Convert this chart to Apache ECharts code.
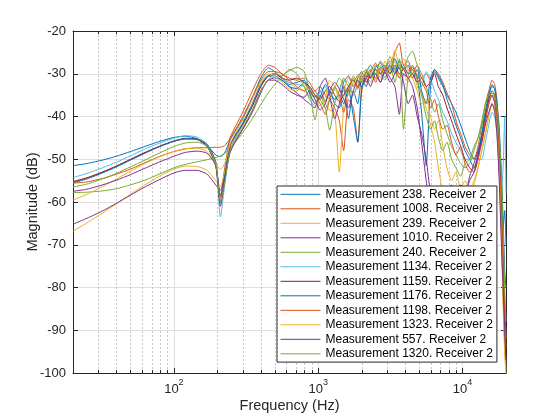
<!DOCTYPE html>
<html><head><meta charset="utf-8">
<script src="https://cdn.jsdelivr.net/npm/echarts@6/dist/echarts.min.js"></script>
<style>html,body{margin:0;padding:0;background:#fff}#c{width:560px;height:420px}</style>
</head><body><div id="c"></div>
<script>
const freqs = [20,25,32,40,50,63,80,100,120,145,170,195,210,225,245,270,300,350,400,450,
  500,560,630,710,800,870,950,1030,1120,1200,1300,1400,1500,1620,1750,1880,2000,2150,2300,2500,
  2700,2900,3150,3400,3650,3900,4200,4500,4850,5200,5600,6000,6400,6800,7300,7800,8400,9000,9700,10400,
  11200,12000,12800,13600,14400,15200,16000,16700,17300,17900,18500,19100,19600,20000];

const m238 = [-51.5,-51,-50.2,-49.3,-48.2,-47,-45.8,-44.9,-44.6,-45.2,-46.8,-49,-49.4,-48.5,-45.5,-43,-40.5,-35.5,-31,-28.6,
  -29.5,-31,-32.5,-32,-31.5,-33.5,-35.5,-34,-36.5,-34,-37,-38,-33,-40.5,-34,-37,-31,-33,-30,-31,
  -28.5,-30,-29,-26.5,-29,-28,-30,-28.5,-31,-39,-51.5,-33,-29.5,-31,-33,-35,-37,-39,-42,-45,
  -48,-50,-48,-44,-39,-35,-33,-33.5,-37,-42,-52,-64,-76,-80];
const m1008 = [-55.2,-54.3,-53,-51.6,-50.1,-48.5,-47,-45.8,-45.3,-45.4,-47,-51.5,-59,-52,-45,-42,-39,-34,-30,-28,
  -28.5,-30,-31,-31.5,-31,-32,-34,-33,-35,-36,-38,-41,-48,-36,-38,-46,-33,-31,-29,-32,
  -29,-28,-30,-25,-22.8,-28,-27,-30,-28,-31,-30,-31.5,-29,-30,-32,-34.5,-37,-41,-44,-47,
  -49,-50,-47,-42,-37,-34,-31.5,-32.5,-36,-45,-56,-72,-88,-94];
const m239 = [-66.8,-64.9,-62.6,-60.4,-58.2,-56,-53.9,-52.3,-51.6,-51.7,-52.6,-55,-56.3,-53,-47.5,-44.5,-42,-37.5,-33,-30.5,
  -30,-31,-32,-33.5,-34,-35,-36.5,-35,-37,-38.5,-39,-53,-38,-33,-35,-32,-34,-30,-32,-29,
  -31,-27,-29.5,-27,-31,-30,-32,-29,-33,-35,-38,-42,-46,-52,-58,-62,-56,-59,-62,-57,
  -59,-56,-52,-48,-44,-40,-37,-38,-43,-50,-60,-78,-92,-99];
const m1010 = [-65.2,-63.8,-62.1,-60.3,-58.4,-56.5,-54.7,-53.2,-52.6,-52.6,-53.5,-56,-57.2,-54,-48.5,-45.5,-43,-38.5,-34,-31.5,
  -31,-31.5,-33,-34.5,-36,-37,-38,-33,-31,-35,-40.5,-37,-32,-30.5,-33,-31,-29.5,-32,-30.5,-30,
  -32,-29,-31,-33,-39.5,-30,-31,-33,-38,-46,-55,-62,-57,-63,-58,-62,-57,-60,-56,-58,
  -54,-51,-48,-45,-41,-37,-35,-37,-42,-52,-64,-82,-93,-97];
const m240 = [-57.8,-57.7,-57.4,-56.9,-56,-54.9,-53.4,-52,-51.2,-50.6,-50.1,-49.6,-49.2,-48.6,-47.5,-45.8,-43.8,-40.5,-37.2,-34.5,
  -32.5,-30.5,-29.3,-28.5,-29.5,-34,-40.8,-35,-38,-43.2,-37,-34,-31,-33,-30.5,-32,-30,-29,-31,-28,
  -30,-31.5,-28,-32,-27,-29,-26,-24.7,-28,-30,-33,-36,-39,-37,-41,-44,-47,-49,-51,-52,
  -51,-48,-45,-42,-39,-36,-34.5,-35.5,-39,-46,-55,-68,-84,-92];
const m1134 = [-54.3,-53.3,-52,-50.7,-49.2,-47.6,-46.2,-45.1,-44.5,-44.8,-46.5,-51,-63.5,-56,-47,-44.5,-42,-37.5,-33,-30.5,
  -31,-31.5,-32,-32.5,-33,-36,-37.5,-34,-33,-35.5,-36,-34,-31.5,-32,-35,-33,-31,-30,-28,-30,
  -29,-31,-27.5,-29.5,-28,-30.5,-29,-31,-30,-33,-29.5,-31,-34,-36,-39,-41,-44,-46,-48,-50,
  -50,-49.5,-50,-50,-46,-42,-39,-40,-44,-52,-58,-52,-40,-58];
const m1159 = [-55.3,-54.4,-53,-51.6,-50,-48.4,-46.9,-45.7,-45.1,-45.3,-47,-51.5,-61,-55,-46.8,-44.2,-41.8,-37.5,-33,-30.5,
  -30,-31,-31.5,-31,-32,-33,-35,-36,-34,-33,-35,-36.5,-35,-33,-31.5,-33,-32,-30.5,-31,-29,
  -30,-28.5,-30,-28,-30,-29,-31,-30,-32,-31,-33,-32,-30,-33,-35,-38,-41,-44,-47,-50,
  -52,-53,-50,-45,-40,-36,-34,-35,-39,-47,-58,-74,-86,-90];
const m1176 = [-55.5,-54.6,-53.2,-51.8,-50.2,-48.6,-47,-45.8,-45.2,-45.3,-46.5,-50.5,-60,-54,-46.5,-44,-41.5,-37,-32.5,-30.5,
  -30.5,-31.5,-33,-33.5,-32,-34.5,-37,-35.5,-32.5,-34,-36,-35,-37,-33.5,-40,-46,-34,-29.5,-31,-28.5,
  -27.5,-29.5,-28,-30,-27,-29,-28,-31,-29,-34,-37,-31,-29,-30.5,-32.5,-36,-39,-42,-45,-48,
  -50,-52,-49,-44,-39,-35,-32.5,-33.5,-37,-44,-54,-66,-62,-70];
const m1198 = [-55.6,-55.3,-54.5,-53.5,-52.3,-50.8,-49.3,-48.2,-47.6,-47.3,-47.3,-47.2,-47.2,-46.8,-45.2,-42.8,-40,-35.5,-31.5,-29.5,
  -29.5,-30,-31.5,-33,-34,-33,-35,-37,-39.5,-36,-33,-35,-39,-34,-31,-33.5,-30.5,-32,-29.5,-27.5,
  -30,-29,-27,-29,-31,-28.5,-30,-28,-30.5,-32,-34,-38,-36,-40,-43,-42,-46,-49,-47,-51,
  -53,-52,-50,-46,-41,-37,-35,-36.5,-40,-48,-60,-76,-86,-92];
const m1323 = [-59.6,-58.2,-56.4,-54.6,-52.8,-51,-49.4,-48.2,-47.5,-47.4,-48.2,-51,-52.4,-51,-46.5,-43.5,-40.8,-36,-32,-30,
  -30.5,-32,-33.5,-34,-32.5,-34,-36,-37.5,-35.5,-31.5,-33,-36,-34,-31,-33,-30,-32,-29,-30,-31.5,
  -28,-30,-28.5,-24.5,-28,-26.5,-29,-31,-34,-37,-36,-40,-43,-41,-47,-52,-55,-53,-57,-55,
  -57,-55,-52,-48,-44,-40,-37,-38.5,-43,-52,-66,-84,-96,-100];
const m557 = [-57.5,-57,-56,-54.9,-53.6,-52.1,-50.6,-49.3,-48.4,-48.1,-48.6,-51.5,-58.5,-55,-48,-45.5,-43,-39,-34.5,-31.5,
  -31.5,-32.5,-34,-35,-35.5,-34,-36,-38.5,-37,-34,-32,-33.5,-36,-38,-34,-31.5,-33,-31,-33,-30,
  -32,-29.5,-32,-30,-28.5,-32,-37,-35,-40,-44,-50,-58,-62,-58,-63,-59,-56,-59,-56,-58,
  -55,-53,-49,-46,-42,-39,-37,-39,-44,-54,-68,-80,-90,-97];
const m1320 = [-56.5,-55.8,-54.6,-53.3,-51.8,-50.2,-48.5,-47,-46.2,-46,-47,-51,-60,-55.5,-48,-45,-42.5,-38.5,-34,-31.5,
  -30,-30.5,-29,-30,-33,-35.5,-34,-36,-38,-36,-33.5,-31,-32.5,-35,-32,-30.5,-32,-29.5,-28,-30,
  -27,-28.5,-26,-29,-26.5,-43,-30.5,-29,-31.5,-35,-40,-43,-41,-45,-48,-46,-50,-52,-54,-51,
  -50,-47,-45,-41,-37,-35,-34,-35,-38,-44,-52,-66,-80,-88];

const seriesNames = ['Measurement 238. Receiver 2','Measurement 1008. Receiver 2','Measurement 239. Receiver 2',
  'Measurement 1010. Receiver 2','Measurement 240. Receiver 2','Measurement 1134. Receiver 2',
  'Measurement 1159. Receiver 2','Measurement 1176. Receiver 2','Measurement 1198. Receiver 2',
  'Measurement 1323. Receiver 2','Measurement 557. Receiver 2','Measurement 1320. Receiver 2'];
const seriesValues = [m238,m1008,m239,m1010,m240,m1134,m1159,m1176,m1198,m1323,m557,m1320];
const colors = ['#0072BD','#D95319','#EDB120','#7E2F8E','#77AC30','#4DBEEE','#A2142F',
  '#0072BD','#D95319','#EDB120','#7E2F8E','#77AC30'];
const minorFreqs = [30,40,50,60,70,80,90,200,300,400,500,600,700,800,900,2000,3000,4000,5000,6000,7000,8000,9000];
const xMin = 20, xMax = 20000, yMin = -100, yMax = -20, yStep = 10;
const xLabel = 'Frequency (Hz)', yLabel = 'Magnitude (dB)';

const FONT = 'Liberation Sans, Arial, Helvetica, sans-serif';
const AX = '#262626';

const chart = echarts.init(document.getElementById('c'), null, {renderer:'canvas'});

const lineSeries = seriesValues.map((vals, i) => ({
  name: seriesNames[i], type: 'line', xAxisIndex: 0, yAxisIndex: 0,
  data: freqs.map((f, k) => [f, vals[k]]),
  showSymbol: false, symbol: 'none', smooth: 0.2,
  lineStyle: {width: 1, color: colors[i]}, itemStyle: {color: colors[i]},
  emphasis: {disabled: true}, silent: true, z: 3
}));

const minorSeries = {
  type: 'custom', xAxisIndex: 0, yAxisIndex: 0, silent: true, z: 1,
  data: minorFreqs.map(f => [f, yMin]),
  encode: {x: 0, y: 1},
  renderItem: function (params, api) {
    const top = api.coord([api.value(0), yMax]);
    const bot = api.coord([api.value(0), yMin]);
    const x = Math.round(top[0]) + 0.5;
    return {type: 'group', children: [
      {type: 'line', shape: {x1: x, y1: top[1], x2: x, y2: bot[1]},
       style: {stroke: '#c6c6c6', lineWidth: 1, lineDash: [2, 2]}},
      {type: 'line', shape: {x1: x, y1: bot[1], x2: x, y2: bot[1] - 3},
       style: {stroke: AX, lineWidth: 1}},
      {type: 'line', shape: {x1: x, y1: top[1], x2: x, y2: top[1] + 3},
       style: {stroke: AX, lineWidth: 1}}
    ]};
  }
};

function powLabel(v) {
  const e = Math.log10(v), r = Math.round(e);
  if (Math.abs(e - r) > 1e-6) return '';
  return '{b|10}{s|' + r + '}';
}

chart.setOption({
  animation: false,
  backgroundColor: '#fff',
  textStyle: {fontFamily: FONT},
  grid: {left: 73, right: 54, top: 31, bottom: 47, containLabel: false},
  xAxis: [{
    type: 'log', logBase: 10, min: xMin, max: xMax, position: 'bottom',
    axisLine: {show: true, onZero: false, lineStyle: {color: AX, width: 1}},
    axisTick: {show: true, inside: true, length: 5, lineStyle: {color: AX}},
    splitLine: {show: true, lineStyle: {color: '#dfdfdf', width: 1}},
    minorTick: {show: false}, minorSplitLine: {show: false},
    axisLabel: {margin: 5, color: AX, formatter: powLabel,
      rich: {b: {fontSize: 13, lineHeight: 18, verticalAlign: 'bottom', color: AX, fontFamily: FONT},
             s: {fontSize: 9, lineHeight: 10, verticalAlign: 'top', color: AX, fontFamily: FONT}}},
    name: xLabel, nameLocation: 'middle', nameGap: 25, nameMoveOverlap: false,
    nameTextStyle: {fontSize: 14.5, color: AX, fontFamily: FONT}
  }, {
    type: 'log', logBase: 10, min: xMin, max: xMax, position: 'top',
    axisLine: {show: true, onZero: false, lineStyle: {color: AX, width: 1}},
    axisTick: {show: true, inside: true, length: 5, lineStyle: {color: AX}},
    splitLine: {show: false}, axisLabel: {show: false}
  }],
  yAxis: [{
    type: 'value', min: yMin, max: yMax, interval: yStep, position: 'left',
    axisLine: {show: true, onZero: false, lineStyle: {color: AX, width: 1}},
    axisTick: {show: true, inside: true, length: 5, lineStyle: {color: AX}},
    splitLine: {show: true, lineStyle: {color: '#dfdfdf', width: 1}},
    axisLabel: {margin: 7, fontSize: 13, color: AX, fontFamily: FONT},
    name: yLabel, nameLocation: 'middle', nameGap: 33, nameRotate: 90, nameMoveOverlap: false,
    nameTextStyle: {fontSize: 14.5, color: AX, fontFamily: FONT}
  }, {
    type: 'value', min: yMin, max: yMax, interval: yStep, position: 'right',
    axisLine: {show: true, onZero: false, lineStyle: {color: AX, width: 1}},
    axisTick: {show: true, inside: true, length: 5, lineStyle: {color: AX}},
    splitLine: {show: false}, axisLabel: {show: false}
  }],
  legend: {
    data: seriesNames, orient: 'vertical', left: 277, top: 186,
    backgroundColor: '#fff', borderColor: AX, borderWidth: 1,
    padding: [2.3, 4, 2.3, 3], itemWidth: 40, itemHeight: 12, itemGap: 2.5,
    selectedMode: false,
    itemStyle: {opacity: 0},
    lineStyle: {width: 1},
    textStyle: {fontSize: 12, color: '#000', fontFamily: FONT}
  },
  series: [minorSeries].concat(lineSeries)
});
</script></body></html>
